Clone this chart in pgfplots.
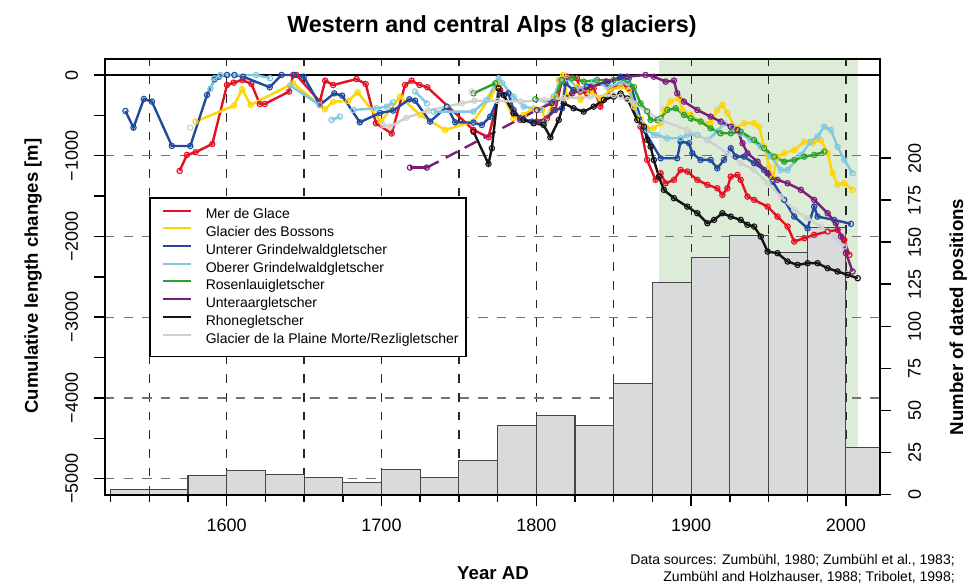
\documentclass[border=0pt]{standalone}
\usepackage{pgfplots}
\pgfplotsset{compat=1.18}
\usepackage{fontspec}
\setmainfont{Liberation Sans}
\definecolor{mdgc}{RGB}{226,18,36}
\definecolor{bosc}{RGB}{255,212,0}
\definecolor{ugrc}{RGB}{31,74,158}
\definecolor{ogrc}{RGB}{128,200,226}
\definecolor{rosc}{RGB}{46,160,46}
\definecolor{untc}{RGB}{123,30,122}
\definecolor{rhoc}{RGB}{20,20,20}
\definecolor{pmc}{RGB}{208,208,208}
\definecolor{shade}{RGB}{221,236,214}
\definecolor{barfill}{RGB}{217,218,220}
\definecolor{baredge}{RGB}{70,70,70}
\newcommand{\ticksz}{\fontsize{13.5}{16}\selectfont}
\newcommand{\legsz}{\fontsize{10.5}{12}\selectfont}
\begin{document}
\begin{tikzpicture}
\useasboundingbox (0,0) rectangle (725.25pt,437.25pt);
\pgfplotsset{
  base/.style={scale only axis, width=581.25pt, height=327pt, at={(78.75pt,66pt)}, anchor=south west, xmin=1521.4, xmax=2022},
  ser/.style={line width=1.8pt, mark=o, mark size=2pt, mark options={solid, line width=0.85pt}, forget plot},
}
% background: shading and grid
\begin{axis}[base, ymin=-5202, ymax=198, axis on top,
  xtick={1550,1600,...,2000}, ytick={-5000,-4000,...,-1000},
  xticklabels={}, yticklabels={}, grid=major,
  x grid style={black!85, line width=0.9pt, dash pattern=on 6.5pt off 7.5pt},
  y grid style={black!55, line width=0.9pt, dash pattern=on 7pt off 7pt},
  axis line style={draw=none}, major tick length=0pt, tick style={draw=none}]
\addplot[fill=shade, draw=none] coordinates {(1879,-5202) (2008,-5202) (2008,198) (1879,198)} -- cycle;
\end{axis}
% histogram, right axis
\begin{axis}[base, ymin=-0.4, ymax=259, axis x line=none, axis y line*=right,
  axis line style={draw=none},
  ytick={0,25,...,200}, yticklabels={0,25,50,75,100,125,150,175,200},
  tick align=outside, major tick length=8.5pt, tick style={black, line width=1.1pt},
  yticklabel style={font=\ticksz, rotate=90, anchor=north, inner sep=0pt},
  yticklabel shift=12.5pt]
\addplot[ybar interval, fill=barfill, draw=baredge, line width=0.8pt] coordinates {
(1525,3) (1550,3) (1575,11) (1600,14) (1625,12) (1650,10) (1675,7) (1700,15) (1725,10)
(1750,20) (1775,41) (1800,47) (1825,41) (1850,66) (1875,126) (1900,141) (1925,154)
(1950,144) (1975,159) (2000,28) (2025,28)};
\end{axis}
% main axis with series
\begin{axis}[base, ymin=-5202, ymax=198,
  axis line style={line width=1.3pt},
  tick pos=left, tick align=outside, major tick length=8.5pt, minor tick length=5pt,
  tick style={black, line width=1.1pt},
  xtick={1600,1700,1800,1900,2000}, xticklabels={1600,1700,1800,1900,2000},
  minor xtick={1525,1550,...,2000},
  ytick={-5000,-4500,...,0},
  yticklabels={−5000,,−4000,,−3000,,−2000,,−1000,,0},
  xticklabel style={font=\ticksz, inner sep=0pt, anchor=north},
  xticklabel shift=9pt,
  yticklabel style={font=\ticksz, rotate=90, anchor=south, inner sep=0pt},
  yticklabel shift=11.5pt,
  legend style={at={(axis description cs:0.0572,0.6828)}, anchor=north west,
    draw=black, line width=1.1pt, fill=white, font=\legsz,
    inner xsep=5.5pt, inner ysep=7.7pt, row sep=2.8pt, column sep=10pt,
    nodes={inner sep=0pt, text height=8pt, text depth=2.5pt}},
  legend cell align=left,
  legend image code/.code={\path (0pt,0pt); \draw[line width=1.5pt] (3.8pt,3.6pt) -- (25pt,3.6pt);}
]
\addlegendimage{mdgc}\addlegendentry{Mer de Glace}
\addlegendimage{bosc}\addlegendentry{Glacier des Bossons}
\addlegendimage{ugrc}\addlegendentry{Unterer Grindelwaldgletscher}
\addlegendimage{ogrc}\addlegendentry{Oberer Grindelwaldgletscher}
\addlegendimage{rosc}\addlegendentry{Rosenlauigletscher}
\addlegendimage{untc}\addlegendentry{Unteraargletscher}
\addlegendimage{rhoc}\addlegendentry{Rhonegletscher}
\addlegendimage{pmc}\addlegendentry{Glacier de la Plaine Morte/Rezligletscher}

\addplot[black, line width=1.3pt, forget plot] coordinates {(1521.4,0) (2022,0)};

% Mer de Glace
\addplot[mdgc, ser] coordinates {
(1569.6,-1188) (1574.3,-990) (1579.9,-957) (1590.7,-854) (1600.2,-124) (1604.5,-95)
(1610.2,-62) (1616,-111) (1621.4,-359) (1624.6,-359) (1640.3,-206) (1643,0) (1645,0)
(1660.2,-330) (1663.6,-70) (1668.8,-124) (1683.9,-50) (1689.8,-111) (1696.4,-598)
(1706.6,-725) (1715.2,-124) (1719.5,-70) (1724.5,-124) (1729.6,-152) (1759.4,-681)
(1769.1,-771) (1776.7,-186) (1785.3,-474) (1789.6,-557) (1800.4,-577) (1806.9,-536)
(1812.3,-433) (1816.6,-62) (1819.9,-21) (1826.3,-41) (1828.5,-206) (1832.8,-227)
(1837.1,-165) (1841.4,-392) (1847.9,-186) (1854.4,-103) (1859.7,-165) (1863,-351)
(1867.3,-640) (1871.6,-1052) (1877,-1299) (1880.3,-1217) (1883.5,-1341) (1888.9,-1299)
(1893.2,-1176) (1897.5,-1196) (1904,-1299) (1910.5,-1361) (1916.9,-1403) (1920.2,-1485)
(1923.4,-1403) (1925.6,-1258) (1929.9,-1238) (1932,-1299) (1936.4,-1506) (1940.7,-1547)
(1949.4,-1630) (1955.8,-1754) (1962.3,-1877) (1966.6,-2063) (1973.1,-2021) (1979.5,-1980)
(1988.2,-1939) (1994.6,-1918) (1998.9,-2042) (2002.2,-2228)};

% Glacier des Bossons
\addplot[bosc, ser] coordinates {
(1579.9,-577) (1604.7,-380) (1609.9,-177) (1615.5,-371) (1643,-103) (1663.4,-425)
(1668.8,-330) (1678.5,-322) (1684.6,-214) (1699.7,-577) (1712,-268) (1724.9,-495)
(1741.1,-681) (1759.4,-577) (1770.2,-268) (1775.6,-124) (1785.3,-536) (1791.8,-495)
(1798.3,-412) (1803.7,-433) (1805.8,-577) (1812.3,-268) (1814.5,-62) (1817.3,0)
(1819.9,-268) (1826.3,-144) (1828.5,-309) (1834.9,-206) (1841.4,-289) (1847.9,-186)
(1854.4,-144) (1859.7,-186) (1863,-392) (1867.3,-536) (1871.6,-660) (1875.9,-660)
(1880.3,-598) (1882.4,-433) (1886.7,-330) (1892.1,-289) (1894.3,-433) (1899.7,-495)
(1906.1,-577) (1912.6,-598) (1916.9,-433) (1920.2,-371) (1923.4,-474) (1928.8,-660)
(1934.2,-598) (1940.7,-598) (1943.9,-640) (1947.1,-887) (1950.4,-1135) (1952.6,-1279)
(1955.8,-1011) (1960.1,-969) (1966.6,-928) (1973.1,-825) (1978.4,-845) (1983.8,-804)
(1988.2,-969) (1991.4,-1217) (1994.6,-1361) (1998.9,-1341) (2004.3,-1423)};

% Unterer Grindelwaldgletscher
\addplot[ugrc, ser] coordinates {
(1534.6,-446) (1539.8,-652) (1546.5,-297) (1551.7,-330) (1564.6,-879) (1576.5,-879)
(1587.3,-248) (1592.2,-54) (1595,-21) (1600.2,0) (1605,0) (1610.6,-21) (1627.8,-152)
(1635.4,0) (1643.6,0) (1649.8,-21) (1660.2,-371) (1669.5,-227) (1674.6,-256) (1686,-586)
(1699,-470) (1707.5,-441) (1718,-301) (1721.7,-318) (1731.4,-577) (1742.2,-392)
(1747.6,-586) (1759.4,-590) (1764.8,-619) (1770.2,-516) (1776.7,-227) (1782,-227)
(1785.3,-433) (1789.6,-536) (1797.2,-577) (1804.7,-577) (1811.2,-433) (1816.6,-412)
(1818.8,-103) (1824,-186) (1832.8,-144) (1845.7,-103) (1854.4,-21) (1859.7,-41)
(1869.5,-680) (1880.3,-1031) (1891,-1031) (1893.2,-825) (1898.6,-845) (1900.8,-969)
(1906.1,-1052) (1912.6,-1052) (1916.9,-1155) (1921.2,-1052) (1925.6,-907) (1928.8,-1011)
(1934.2,-1011) (1940.7,-1093) (1947.1,-1176) (1952.6,-1320) (1960.1,-1547) (1966.6,-1754)
(1975.2,-1898) (1979.5,-1630) (1981.7,-1754) (1992.4,-1795) (2003.2,-1844)};

% Oberer Grindelwaldgletscher (segments)
\addplot[ogrc, ser] coordinates {(1589.5,-170) (1592,-40) (1596,0) (1619,0) (1628,-40)};
\addplot[ogrc, ser] coordinates {(1641,-130) (1660,-371)};
\addplot[ogrc, ser] coordinates {(1667.8,-557) (1673.1,-516)};
\addplot[ogrc, ser] coordinates {(1681.8,-433) (1696.9,-412) (1703.4,-392) (1707.4,-340)};
\addplot[ogrc, ser] coordinates {(1721.7,-206) (1729.3,-351)};
\addplot[ogrc, ser] coordinates {
(1733.6,-454) (1759.4,-454) (1768,-309) (1775.6,-41) (1778,-100) (1785.3,-268)
(1791.8,-392) (1802.6,-433) (1811.2,-268) (1815.5,-62) (1820,-40) (1828.5,-186)
(1837.1,-82) (1845.7,-144) (1854.4,-103) (1859,-100) (1863,-351) (1867.3,-598)
(1871.6,-681) (1875.9,-743) (1878.1,-743) (1884.5,-784) (1893.2,-784) (1897.5,-743)
(1904,-743) (1910.5,-804) (1916.9,-701) (1921.2,-598) (1926.6,-640) (1932,-722)
(1938.5,-804) (1945,-887) (1951.5,-1011) (1957.9,-1176) (1962.3,-1176) (1970.9,-990)
(1977.3,-825) (1981.7,-763) (1985.9,-640) (1990.3,-681) (1994.6,-887) (1998.9,-1052)
(2004.3,-1217)};

% Rosenlauigletscher
\addplot[rosc, ser] coordinates {(1759.4,-227) (1773.5,-103)};
\addplot[rosc, ser] coordinates {
(1799.4,-301) (1811.2,-330) (1816.6,-62) (1823.1,-41) (1830.6,-82) (1839.3,-62)
(1850,-62) (1858.7,-62) (1863,-150) (1867.3,-351) (1871.6,-450) (1873.8,-557)
(1878.1,-557) (1880.3,-536) (1884.7,-433) (1890,-412) (1895.4,-495) (1899.7,-536)
(1906.1,-577) (1912.6,-660) (1919.1,-722) (1925.6,-722) (1932,-701) (1940.7,-804)
(1947.1,-907) (1953.6,-1011) (1960.1,-1073) (1966.6,-1052) (1973.1,-1011) (1979.5,-990)
(1986,-949)};

% Unteraargletscher
\addplot[untc, ser] coordinates {(1718.4,-1147) (1729.3,-1147)};
\addplot[untc, line width=1.8pt, dash pattern=on 10pt off 6pt, forget plot] coordinates {(1729.3,-1147) (1800.4,-433)};
\addplot[untc, ser] coordinates {
(1800.4,-433) (1810,-350) (1823.1,-227) (1835,-150) (1845,-80) (1858.7,-21) (1870.5,0)
(1875.9,-21) (1883.5,-82) (1888.9,-70) (1891,-227) (1895.4,-330) (1904,-433)
(1912.6,-516) (1919.1,-577) (1925.6,-640) (1929.9,-681) (1933.2,-845) (1936.4,-969)
(1942.9,-1073) (1949.4,-1217) (1955.8,-1299) (1962.3,-1341) (1970.9,-1423) (1979.5,-1547)
(1988.2,-1712) (1993.5,-1836) (1996.8,-2001) (2000,-2207) (2004.3,-2434)};

% Rhonegletscher
\addplot[rhoc, ser] coordinates {
(1759.4,-701) (1769.1,-1101) (1771.3,-907) (1775.6,-165) (1779,-250) (1785.3,-474)
(1791.8,-557) (1798.3,-598) (1804.7,-619) (1809.1,-771) (1814.5,-557) (1817.7,-351)
(1824.1,-412) (1830.6,-454) (1837.1,-392) (1843.6,-309) (1850,-268) (1854.4,-230)
(1858.7,-290) (1865.2,-557) (1869.5,-640) (1871.6,-804) (1873.8,-887) (1875.9,-1052)
(1879.2,-1258) (1882.4,-1423) (1888.9,-1526) (1897.5,-1630) (1904,-1712) (1910.5,-1836)
(1914.8,-1795) (1920.2,-1712) (1925.6,-1754) (1932,-1795) (1936.4,-1856) (1940.7,-1877)
(1945,-2001) (1949.4,-2187) (1955.8,-2207) (1962.3,-2310) (1968.7,-2352) (1975.2,-2331)
(1981.7,-2331) (1988.2,-2393) (1994.6,-2434) (2001.1,-2475) (2007.6,-2517)};

% Glacier de la Plaine Morte / Rezligletscher
\addplot[pmc, only marks, mark=o, mark size=2pt, mark options={line width=0.85pt}, forget plot] coordinates {(1576.5,-652) (1758.4,-206)};
\addplot[pmc, ser] coordinates {
(1701,-620) (1705.5,-640) (1716,-530) (1730,-440) (1751.9,-351) (1760,-320) (1775,-320)
(1790,-330) (1805,-310) (1817.7,-289) (1835,-270) (1850,-248) (1854.4,-268) (1858.7,-309)
(1863,-351) (1880.3,-557) (1897.5,-681) (1910.5,-804) (1923.4,-969) (1932,-1093)
(1940.7,-1176) (1949.4,-1341) (1957.9,-1506) (1966.6,-1671) (1975.2,-1774) (1983.8,-1877)
(1992.4,-2001) (1998.9,-2125)};
\end{axis}

% titles and labels
\node[anchor=base, font=\bfseries\fontsize{17.5}{20}\selectfont] at (369pt,412.5pt) {Western and central Alps (8 glaciers)};
\node[anchor=base, rotate=90, font=\bfseries\fontsize{13.9}{16}\selectfont] at (28.5pt,230.25pt) {Cumulative length changes [m]};
\node[anchor=base, rotate=90, font=\bfseries\fontsize{14}{16}\selectfont] at (722.25pt,199.5pt) {Number of dated positions};
\node[anchor=base, font=\bfseries\fontsize{14}{16}\selectfont] at (369.75pt,2.7pt) {Year AD};
\node[anchor=base east, font=\fontsize{10.5}{12}\selectfont, inner sep=0pt] at (716.25pt,14.25pt) {Data sources: Zumbühl, 1980; Zumbühl et al., 1983;};
\node[anchor=base east, font=\fontsize{10.5}{12}\selectfont, inner sep=0pt] at (716.25pt,1.5pt) {Zumbühl and Holzhauser, 1988; Tribolet, 1998;};
\end{tikzpicture}
\end{document}
